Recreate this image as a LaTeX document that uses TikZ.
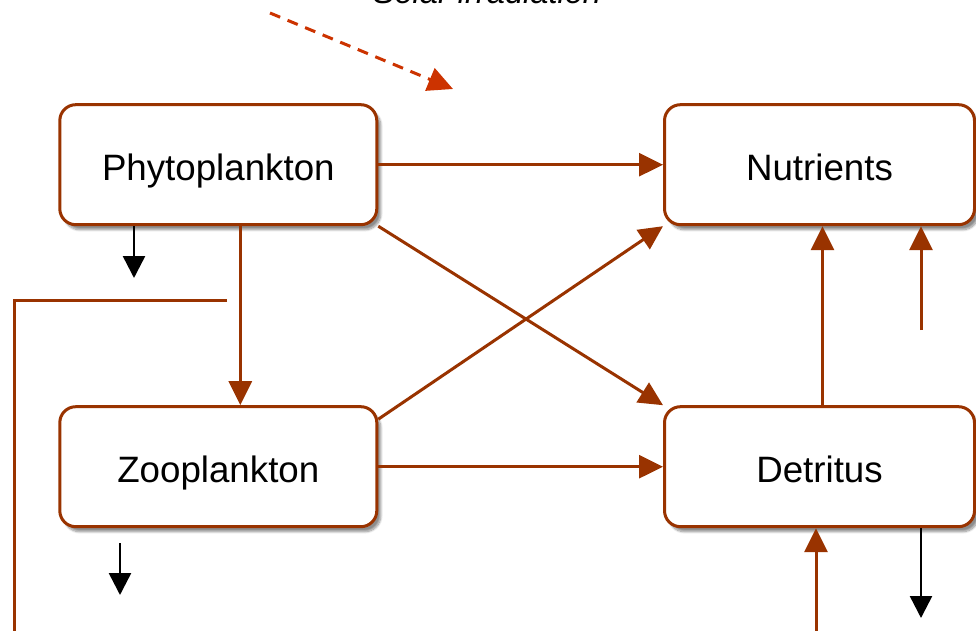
\documentclass[tikz,border=0pt]{standalone}
\usepackage{fontspec}
\setmainfont{Liberation Sans}
\usetikzlibrary{arrows.meta,shadows.blur}
\definecolor{brn}{HTML}{993300}
\definecolor{sun}{HTML}{CC3300}
\tikzset{
  box/.style={draw=brn, line width=3pt, rounded corners=16pt, fill=white,
    minimum width=317pt, minimum height=120pt, inner sep=0pt,
    text height=35pt, text depth=4pt,
    font=\fontsize{36.7}{40}\selectfont,
    blur shadow={shadow xshift=4pt, shadow yshift=-5pt, shadow blur steps=10, shadow opacity=45}},
  rbox/.style={box, minimum width=310pt},
  brarrow/.style={draw=brn, line width=3pt, -{Triangle[length=24pt,width=23pt]}},
  blkarrow/.style={draw=black, line width=2.5pt, -{Triangle[length=22pt,width=22pt]}},
  brline/.style={draw=brn, line width=3pt},
  sunarrow/.style={draw=sun, line width=3pt, dash pattern=on 11pt off 8pt,
    -{Triangle[length=25pt,width=24pt]}},
  solartext/.style={font=\fontsize{32.6}{36}\selectfont\itshape, inner sep=0pt, anchor=base}
}
\begin{document}
\begin{tikzpicture}[x=1pt,y=-1pt]
\useasboundingbox (0,0) rectangle (976,631);
\node[box] (phyto) at (218.3,164.7) {Phytoplankton};
\node[rbox] (nut) at (819.5,164.7) {Nutrients};
\node[box] (zoo) at (218.3,466.7) {Zooplankton};
\node[rbox] (det) at (819.5,466.7) {Detritus};

\node[solartext] (solar) at (487,4) {Solar irradiation};
\coordinate (s0) at (270,13);
\coordinate (s1) at (453,89);
\draw[sunarrow] (s0) -- (s1);

\draw[brarrow] (phyto.east) -- (nut.west);
\draw[brarrow] (phyto.south east) -- (det.north west);
\draw[brarrow] ([yshift=-14pt]zoo.north east) -- (nut.south west);
\draw[brarrow] (zoo.east) -- (det.west);
\draw[brarrow] ([xshift=22pt]phyto.south) -- ([xshift=22pt]zoo.north);
\draw[brarrow] ([xshift=3pt]det.north) -- ([xshift=3pt]nut.south);

\coordinate (n1) at (921,330);
\draw[brarrow] (n1) -- (n1 |- nut.south);
\coordinate (d1) at (816,640);
\draw[brarrow] (d1) -- (d1 |- det.south);

\coordinate (p1) at (134,278);
\draw[blkarrow] (p1 |- phyto.south) -- (p1);
\coordinate (z0) at (120,543);
\coordinate (z1) at (120,595);
\draw[blkarrow] (z0) -- (z1);
\coordinate (d2) at (921,618);
\draw[blkarrow] (d2 |- det.south) -- (d2);

\coordinate (l0) at (227,300);
\coordinate (l1) at (14,300);
\coordinate (l2) at (14,640);
\draw[brline] (l0) -- (l1) -- (l2);
\end{tikzpicture}
\end{document}
